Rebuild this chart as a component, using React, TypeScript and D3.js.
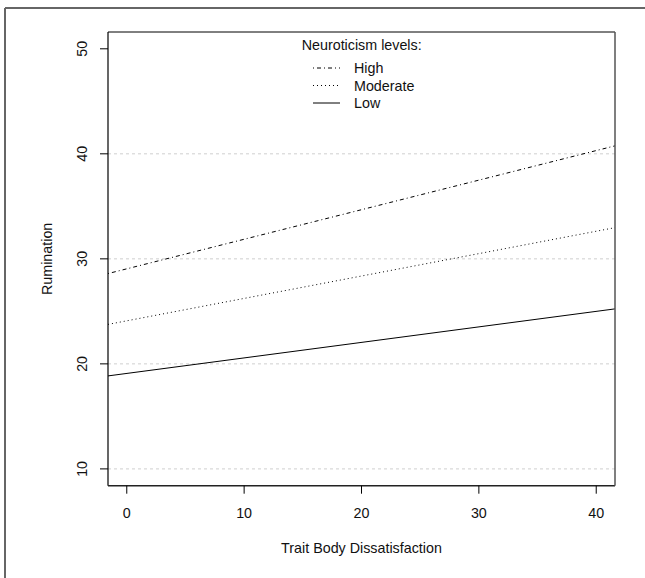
import React from "react";
import * as d3 from "d3";

const W = 645;
const H = 578;

const xTicks = [0, 10, 20, 30, 40];
const yTicks = [10, 20, 30, 40, 50];
const gridValues = [10, 20, 30, 40];
const xRange = [0, 40];
const yRange = [10, 50];

const seriesNames = ["High", "Moderate", "Low"];
const valuesAtX0 = [29.05, 24.1, 19.09];
const valuesAtX40 = [40.31, 32.63, 25.0];
const dashes = ["1 3 4 3", "1 3", null];

const legendTitle = "Neuroticism levels:";
const xTitle = "Trait Body Dissatisfaction";
const yTitle = "Rumination";

export default function App() {
  const m = { l: 108, r: 615, t: 32, b: 485.7 };
  const xPad = (xRange[1] - xRange[0]) * 0.04;
  const yPad = (yRange[1] - yRange[0]) * 0.04;
  const x = d3.scaleLinear().domain([xRange[0] - xPad, xRange[1] + xPad]).range([m.l, m.r]);
  const y = d3.scaleLinear().domain([yRange[0] - yPad, yRange[1] + yPad]).range([m.b, m.t]);
  const [x0, x1] = x.domain();
  const font = "Liberation Sans, Arial, Helvetica, sans-serif";
  const fs = 14.3;

  const lineGen = d3
    .line<[number, number]>()
    .x((d) => x(d[0]))
    .y((d) => y(d[1]));

  const valueAt = (i: number, xv: number) =>
    valuesAtX0[i] + ((valuesAtX40[i] - valuesAtX0[i]) * (xv - 0)) / 40;

  return (
    <svg width={W} height={H} style={{ position: "absolute", left: 0, top: 0, background: "#fff" }}>
      <rect x={0} y={0} width={W} height={H} fill="#fff" />
      {/* outer frame */}
      <line x1={5} y1={8} x2={W} y2={8} stroke="#666" strokeWidth={2} />
      <line x1={5} y1={8} x2={5} y2={H} stroke="#666" strokeWidth={2} />

      {/* grid */}
      {gridValues.map((t) => (
        <line
          key={"g" + t}
          x1={m.l}
          x2={m.r}
          y1={y(t)}
          y2={y(t)}
          stroke="#cfcfcf"
          strokeWidth={1}
          strokeDasharray="3 3"
        />
      ))}

      {/* series lines */}
      {seriesNames.map((s, i) => (
        <path
          key={s}
          d={lineGen([
            [x0, valueAt(i, x0)],
            [x1, valueAt(i, x1)],
          ]) as string}
          fill="none"
          stroke="#000"
          strokeWidth={1}
          strokeDasharray={dashes[i] ?? undefined}
        />
      ))}

      {/* box */}
      <line x1={m.l} x2={m.r} y1={m.t} y2={m.t} stroke="#000" strokeWidth={1} />
      <line x1={m.l} x2={m.l} y1={m.t} y2={m.b} stroke="#000" strokeWidth={1.2} />
      <line x1={m.l} x2={m.r} y1={m.b} y2={m.b} stroke="#222" strokeWidth={1.5} />
      <line x1={m.r} x2={m.r} y1={m.t} y2={m.b} stroke="#555" strokeWidth={1.5} />

      {/* x axis ticks */}
      {xTicks.map((t) => (
        <g key={"x" + t}>
          <line x1={x(t)} x2={x(t)} y1={m.b} y2={m.b + 8} stroke="#000" />
          <text x={x(t)} y={518} textAnchor="middle" fontFamily={font} fontSize={fs} fill="#111">
            {t}
          </text>
        </g>
      ))}
      {/* y axis ticks */}
      {yTicks.map((t) => (
        <g key={"y" + t}>
          <line x1={m.l - 8} x2={m.l} y1={y(t)} y2={y(t)} stroke="#000" />
          <text
            transform={`translate(87,${y(t)}) rotate(-90)`}
            textAnchor="middle"
            fontFamily={font}
            fontSize={fs}
            fill="#111"
          >
            {t}
          </text>
        </g>
      ))}

      {/* axis titles */}
      <text x={(m.l + m.r) / 2} y={553} textAnchor="middle" fontFamily={font} fontSize={fs} fill="#111">
        {xTitle}
      </text>
      <text
        transform={`translate(52,${(m.t + m.b) / 2}) rotate(-90)`}
        textAnchor="middle"
        fontFamily={font}
        fontSize={fs}
        fill="#111"
      >
        {yTitle}
      </text>

      {/* legend */}
      <text x={361.7} y={50} textAnchor="middle" fontFamily={font} fontSize={fs} fill="#111">
        {legendTitle}
      </text>
      {seriesNames.map((s, i) => {
        const ly = 68 + i * 17.5;
        return (
          <g key={"l" + s}>
            <line
              x1={313}
              x2={340}
              y1={ly}
              y2={ly}
              stroke="#000"
              strokeWidth={1}
              strokeDasharray={dashes[i] ?? undefined}
            />
            <text x={354} y={ly + 5} fontFamily={font} fontSize={fs} fill="#111">
              {s}
            </text>
          </g>
        );
      })}
    </svg>
  );
}
